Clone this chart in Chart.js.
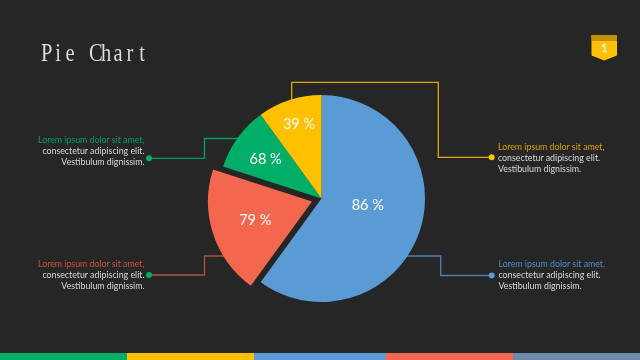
<!DOCTYPE html>
<html>
<head>
<meta charset="utf-8">
<title>Pie Chart</title>
<script src="https://cdn.jsdelivr.net/npm/chart.js@4/dist/chart.umd.min.js"></script>
<style>
  html,body{margin:0;padding:0;background:#262626;}
  #stage{position:relative;width:640px;height:360px;overflow:hidden;background:#262626;font-family:Lato,"Open Sans",sans-serif;}
  #pie{position:absolute;left:0;top:0;}
  #title{position:absolute;left:40px;top:38px;font:25px/30px "Liberation Serif",serif;color:#dcdcdc;white-space:nowrap;}
  #title span{display:inline-block;width:12px;text-align:center;transform:scaleX(.82);}
  .note{position:absolute;width:130px;font-size:8.8px;line-height:11.2px;color:#d9d9d9;white-space:nowrap;}
  .note.left{text-align:right;}
  #badge{position:absolute;left:591px;top:35px;}
  #footer{position:absolute;left:0;top:352.5px;width:640px;height:8px;}
  #footer div{position:absolute;top:0;height:8px;}
</style>
</head>
<body>
<div id="stage">
  <canvas id="pie" width="640" height="360"></canvas>
  <div id="title"></div>
  <svg id="badge" width="27" height="26">
    <polygon points="0.5,0 26,0 26,20.5 13.2,25.5 0.5,20.5" fill="#ffc000"/>
    <rect x="0.5" y="0" width="25.5" height="6" fill="#bf9000"/>
    <text x="13.2" y="17" text-anchor="middle" font-family="Lato" font-size="11" font-weight="700" fill="#fff">1</text>
  </svg>
  <div id="footer"></div>
</div>
<script>
// ------ DATA ------
const TITLE = "Pie Chart";
const CATEGORIES = ["Blue","Red","Green","Yellow"];
const SHARES = [60,20,10,10];               // slice sizes
const VALUE_LABELS = ["86 %","79 %","68 %","39 %"]; // printed text, does not match slice size
const COLORS = ["#5b9bd5","#f4674f","#00ae68","#ffc000"];
const LINE_COLORS = ["#4a7fb5","#b0503f","#00a060","#e0a800"];
const NOTE_LINES = ["Lorem ipsum dolor sit amet,","consectetur adipiscing elit.","Vestibulum dignissim."];
const FOOTER_EDGES = [0,127,254,386,513,640];
const FOOTER_COLORS = ["#00ae68","#ffc000","#5b9bd5","#f4674f","#6f8baa"];

// label nudges from the arc centre, in px
const LABEL_NUDGE = [[-3,-9],[2,0],[-14,-9],[-6.5,-25]];

// callouts behind the pie: path points + dot colour
const CALLOUTS = [
  {line:1, dot:"#00ae68", pts:[[149,275],[204.5,275],[204.5,256],[232,256]]},
  {line:2, dot:"#00ae68", pts:[[149,158.3],[204.5,158.3],[204.5,138.5],[245,138.5]]},
  {line:3, dot:"#ffc000", pts:[[491.7,157.3],[438.3,157.3],[438.3,82.3],[291.7,82.3],[291.7,110]]},
  {line:0, dot:"#5b9bd5", pts:[[491.7,275.5],[440.7,275.5],[440.7,256],[400,256]]}
];

// title has a fixed advance per glyph like the original font
document.getElementById('title').innerHTML = TITLE.split('').map(c=> `<span>${c===' ' ? '&nbsp;' : c}</span>`).join('');

// notes next to the pie
function addNote(x, y, side, color){
  const n = document.createElement('div');
  n.className = 'note ' + side;
  n.style.top = y + 'px';
  n.style.left = (side === 'left' ? x - 130 : x) + 'px';
  n.innerHTML = `<span style="color:${color}">${NOTE_LINES[0]}</span><br>${NOTE_LINES[1]}<br>${NOTE_LINES[2]}`;
  document.getElementById('stage').appendChild(n);
}
addNote(144.5,134,'left','#00a060');
addNote(144.5,258,'left','#d0503c');
addNote(498,141,'right','#d9a000');
addNote(498.5,258,'right','#4f8cc9');

// footer band
FOOTER_COLORS.forEach((c,i)=>{
  const d = document.createElement('div');
  d.style.left = FOOTER_EDGES[i] + 'px';
  d.style.width = (FOOTER_EDGES[i+1]-FOOTER_EDGES[i]) + 'px';
  d.style.background = c;
  document.getElementById('footer').appendChild(d);
});

const calloutPlugin = {
  id:'callouts',
  beforeDatasetsDraw(chart){
    const ctx = chart.ctx;
    ctx.save();
    CALLOUTS.forEach(c=>{
      ctx.strokeStyle = LINE_COLORS[c.line];
      ctx.lineWidth = 1.3;
      ctx.beginPath();
      c.pts.forEach((p,i)=> i ? ctx.lineTo(p[0],p[1]) : ctx.moveTo(p[0],p[1]));
      ctx.stroke();
      ctx.fillStyle = c.dot;
      ctx.beginPath();
      ctx.arc(c.pts[0][0],c.pts[0][1],3,0,Math.PI*2);
      ctx.fill();
    });
    ctx.restore();
  }
};

const valueLabelPlugin = {
  id:'valueLabels',
  afterDatasetsDraw(chart){
    const ctx = chart.ctx;
    ctx.save();
    ctx.fillStyle = '#fff';
    ctx.font = '14.5px Lato';
    ctx.textAlign = 'center';
    ctx.textBaseline = 'middle';
    chart.getDatasetMeta(0).data.forEach((arc,i)=>{
      const p = arc.tooltipPosition();
      ctx.fillText(VALUE_LABELS[i], p.x + LABEL_NUDGE[i][0], p.y + LABEL_NUDGE[i][1]);
    });
    ctx.restore();
  }
};

new Chart(document.getElementById('pie'),{
  type:'pie',
  data:{labels:CATEGORIES, datasets:[{
    data:SHARES,
    backgroundColor:COLORS,
    borderWidth:0,
    offset:[0,40,0,0],   // chart.js moves the arc by offset/4
    hoverOffset:0
  }]},
  options:{
    responsive:false,
    animation:false,
    radius:103.5,
    layout:{padding:{left:3,right:0,top:37,bottom:0}},
    plugins:{legend:{display:false},tooltip:{enabled:false}}
  },
  plugins:[calloutPlugin,valueLabelPlugin]
});
</script>
</body>
</html>
